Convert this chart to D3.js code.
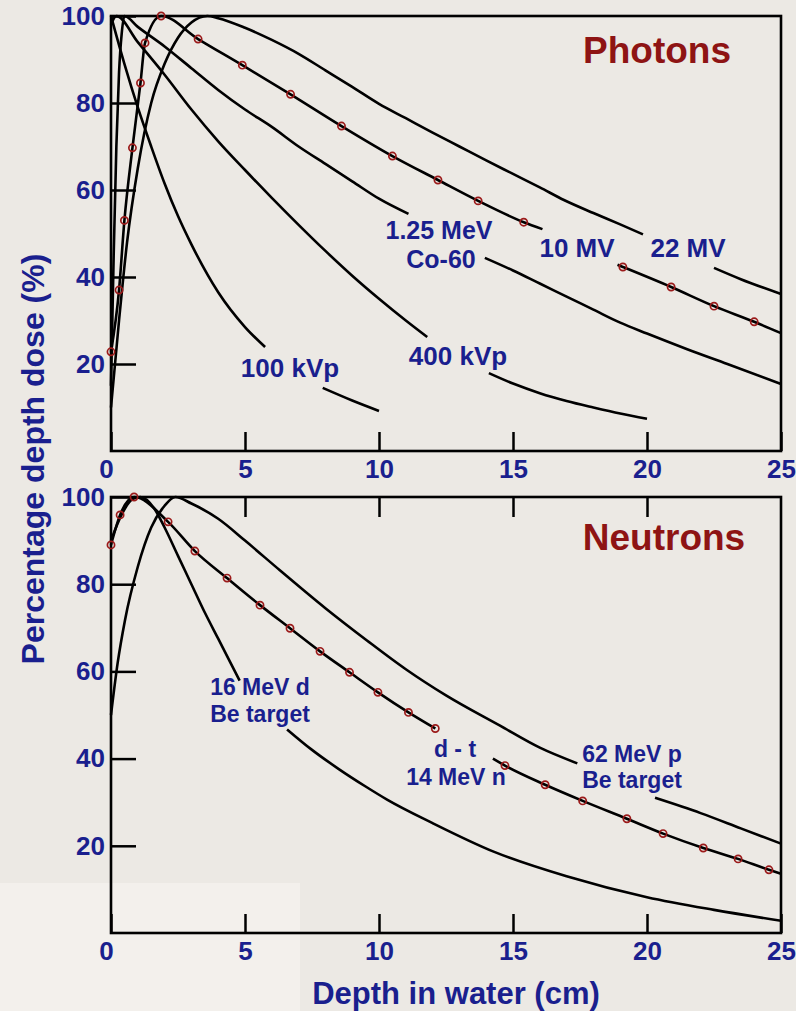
<!DOCTYPE html>
<html><head><meta charset="utf-8">
<script src="https://cdn.jsdelivr.net/npm/d3@7"></script>
<style>html,body{margin:0;padding:0;background:#ece9e4;} svg{display:block}</style>
</head><body><svg id="c" width="796" height="1011"></svg>
<script>
// ---------- data ----------
const xTicks = [0, 5, 10, 15, 20, 25];
const yTicks = [20, 40, 60, 80, 100];

// Photons (depth cm, percentage depth dose); null = gap for label
const kv100Depth = [0, 0.5, 1, 1.5, 2, 2.5, 3, 4, 5, 5.75, null, 7.9, 9, 10];
const kv100Dose  = [100, 89, 79, 70, 61.5, 54, 47.5, 36.5, 28.5, 23.9, null, 14.5, 11.6, 9.2];

const kv400Depth = [0, 0.2, 1, 2, 3, 4, 5, 6, 7, 8, 9, 10, 11, 11.8, null, 14.1, 15, 16, 17, 18, 19, 20];
const kv400Dose  = [98, 100, 94, 86.5, 78.5, 71.2, 64.6, 58.2, 52, 46, 40.3, 35, 30, 26.2, null, 17.9, 15.5, 13.3, 11.5, 10, 8.6, 7.4];

const coDepth = [0, 0.1, 0.2, 0.3, 0.4, 0.5, 1, 2, 3, 4, 5, 6, 7, 8, 9, 10, 11.1, null, 13.95, 15, 16, 17, 18, 19, 20, 21.5, 23, 25];
const coDose  = [15, 45, 70, 87, 96, 100, 97.5, 93, 88, 83, 78.5, 74.5, 70, 66, 62, 58, 54.5, null, 44.4, 41.5, 38.5, 35.5, 32.5, 29.5, 27, 23.4, 20, 15.4];

const mv10Depth = [0, 0.3, 0.5, 0.8, 1.1, 1.27, 1.87, 3.25, 4.9, 6.7, 8.6, 10.5, 12.2, 13.7, 15.4, 16.1, null, 18.9, 19.1, 20.9, 22.5, 24, 25];
const mv10Dose  = [22.8, 37, 53, 69.7, 84.6, 93.8, 100, 94.7, 88.7, 82, 74.7, 67.8, 62.3, 57.5, 52.6, 51, null, 42.8, 42.3, 37.7, 33.3, 29.7, 27.1];
const mv10MarkDepth = [0, 0.3, 0.5, 0.8, 1.1, 1.27, 1.87, 3.25, 4.9, 6.7, 8.6, 10.5, 12.2, 13.7, 15.4, 19.1, 20.9, 22.5, 24];
const mv10MarkDose  = [22.8, 37, 53, 69.7, 84.6, 93.8, 100, 94.7, 88.7, 82, 74.7, 67.8, 62.3, 57.5, 52.6, 42.3, 37.7, 33.3, 29.7];

const mv22Depth = [0, 0.3, 0.6, 1, 1.5, 2, 2.5, 3, 3.6, 4, 5, 6, 7, 8, 9, 10, 11, 12, 13, 14, 15, 16, 16.9, 18, 19, 19.85, null, 22.5, 23.5, 25];
const mv22Dose  = [10, 30, 48, 65, 80, 89, 95, 98.5, 100, 99.5, 97.3, 94.5, 91.3, 87.5, 83.7, 79.8, 76.5, 73.2, 70, 66.8, 63.7, 60.6, 57.7, 54.7, 52.1, 49.8, null, 42.1, 39.5, 36.1];

// Neutrons
const dtDepth = [0, 0.34, 0.86, 2.13, 3.13, 4.33, 5.56, 6.68, 7.8, 8.9, 9.96, 11.1, 12.1, null, 14.25, 14.7, 16.2, 17.6, 19.25, 20.6, 22.1, 23.4, 24.55, 25];
const dtDose  = [89, 95.9, 100, 94.3, 87.6, 81.4, 75.2, 69.9, 64.6, 59.8, 55.2, 50.6, 46.9, null, 40, 38.4, 34, 30.3, 26.2, 22.8, 19.5, 17, 14.5, 13.6];
const dtMarkDepth = [0, 0.34, 0.86, 2.13, 3.13, 4.33, 5.56, 6.68, 7.8, 8.9, 9.96, 11.1, 12.1, 14.7, 16.2, 17.6, 19.25, 20.6, 22.1, 23.4, 24.55];
const dtMarkDose  = [89, 95.9, 100, 94.3, 87.6, 81.4, 75.2, 69.9, 64.6, 59.8, 55.2, 50.6, 46.9, 38.4, 34, 30.3, 26.2, 22.8, 19.5, 17, 14.5];

const d16Depth = [0, 0.4, 0.8, 1.1, 1.6, 2, 2.5, 3, 3.5, 4, 4.8, null, 6.57, 7.5, 8.5, 9.5, 10.3, 12, 14.3, 17, 20, 22.5, 25];
const d16Dose  = [90, 96, 99.5, 100, 97.5, 93, 86.5, 80, 73.5, 67.5, 57.9, null, 46.7, 42, 37.6, 33.6, 30.6, 25.2, 18.6, 13, 8.2, 5.3, 2.8];

const p62Depth = [0, 0.25, 0.52, 1, 1.5, 2, 2.4, 3, 4, 5, 6.3, 8, 9.55, 11, 12.5, 14.5, 16, 17.4, null, 20.3, 22, 23.5, 25];
const p62Dose  = [50, 62, 71.7, 84, 93, 98, 100, 98.5, 95, 90, 83.2, 74.5, 67.1, 60.5, 54.5, 47.6, 42.5, 38.9, null, 31, 27.5, 24, 20.5];

// ---------- drawing ----------
const W = 796, H = 1011;
const BLUE = '#1a1f8e', RED = '#8e1414', FONT = '"Liberation Sans", Arial, sans-serif';
const svg = d3.select('#c');
svg.append('rect').attr('width', W).attr('height', H).attr('fill', '#ece9e4');
svg.append('rect').attr('x', 0).attr('y', 883).attr('width', 300).attr('height', 128).attr('fill', '#f3f0ec');

const x = d3.scaleLinear().domain([0, 25]).range([111, 781]);
const yTop = d3.scaleLinear().domain([0, 100]).range([451, 16]);
const yBot = d3.scaleLinear().domain([0, 100]).range([933, 497]);

const zip = (a, b) => a.map((v, i) => [v, b[i]]);

function drawPanel(y, curves, marks, topTicks) {
  svg.append('rect').attr('x', x(0)).attr('y', y(100))
    .attr('width', x(25) - x(0)).attr('height', y(0) - y(100))
    .attr('fill', 'none').attr('stroke', '#000').attr('stroke-width', 2.6);
  const gx = svg.append('g').attr('transform', `translate(0,${y(0)})`)
    .call(d3.axisBottom(x).tickValues(xTicks).tickSize(-19).tickPadding(9).tickFormat(d3.format('d')));
  gx.select('.domain').remove();
  gx.selectAll('line').attr('stroke', '#000').attr('stroke-width', 2.5);
  gx.selectAll('text').attr('fill', BLUE).style('font-family', FONT).style('font-weight', 'bold').style('font-size', '26px');
  gx.selectAll('.tick').filter(d => d === 0).select('text').attr('dx', -5);
  const gy = svg.append('g').attr('transform', `translate(${x(0)},0)`)
    .call(d3.axisLeft(y).tickValues(yTicks).tickSize(-25).tickPadding(6));
  gy.select('.domain').remove();
  gy.selectAll('line').attr('stroke', '#000').attr('stroke-width', 2.5);
  gy.selectAll('text').attr('fill', BLUE).style('font-family', FONT).style('font-weight', 'bold').style('font-size', '26px');
  if (topTicks) {
    const gt = svg.append('g').attr('transform', `translate(0,${y(100)})`)
      .call(d3.axisTop(x).tickValues([5, 10, 15, 20]).tickSize(-20).tickFormat(''));
    gt.select('.domain').remove();
    gt.selectAll('line').attr('stroke', '#000').attr('stroke-width', 2.5);
  }
  const line = d3.line().defined(d => d[0] != null && d[1] != null)
    .x(d => x(d[0])).y(d => y(d[1])).curve(d3.curveMonotoneX);
  curves.forEach(c => {
    svg.append('path').attr('d', line(c)).attr('fill', 'none')
      .attr('stroke', '#000').attr('stroke-width', 2.6).attr('stroke-linejoin', 'round');
  });
  marks.forEach(m => {
    svg.append('g').selectAll('circle').data(m).join('circle')
      .attr('cx', d => x(d[0])).attr('cy', d => y(d[1])).attr('r', 3.6)
      .attr('fill', 'none').attr('stroke', '#9b1a1a').attr('stroke-width', 1.7);
  });
}

drawPanel(yTop,
  [zip(kv100Depth, kv100Dose), zip(kv400Depth, kv400Dose), zip(coDepth, coDose), zip(mv10Depth, mv10Dose), zip(mv22Depth, mv22Dose)],
  [zip(mv10MarkDepth, mv10MarkDose)], false);
drawPanel(yBot,
  [zip(dtDepth, dtDose), zip(d16Depth, d16Dose), zip(p62Depth, p62Dose)],
  [zip(dtMarkDepth, dtMarkDose)], true);

function label(txt, cx, by, size, color) {
  svg.append('text').attr('x', cx).attr('y', by).attr('text-anchor', 'middle')
    .attr('fill', color || BLUE).style('font-family', FONT).style('font-weight', 'bold')
    .style('font-size', size + 'px').text(txt);
}
label('Photons', 657, 63, 37, RED);
label('Neutrons', 664, 550, 37, RED);
label('1.25 MeV', 439, 239, 25);
label('Co-60', 441, 268, 25);
label('10 MV', 577, 257, 26);
label('22 MV', 688, 257, 26);
label('100 kVp', 290, 377, 26);
label('400 kVp', 458, 365, 26);
label('16 MeV d', 260, 695, 23);
label('Be target', 260, 722, 23);
label('d - t', 455, 757, 23);
label('14 MeV n', 456, 785, 23);
label('62 MeV p', 632, 762, 23);
label('Be target', 632, 788, 23);
label('Depth in water (cm)', 456, 1004, 31);
svg.append('text').attr('transform', 'translate(44,459) rotate(-90)').attr('text-anchor', 'middle')
  .attr('fill', BLUE).style('font-family', FONT).style('font-weight', 'bold').style('font-size', '32px')
  .text('Percentage depth dose (%)');
</script>
</body></html>
